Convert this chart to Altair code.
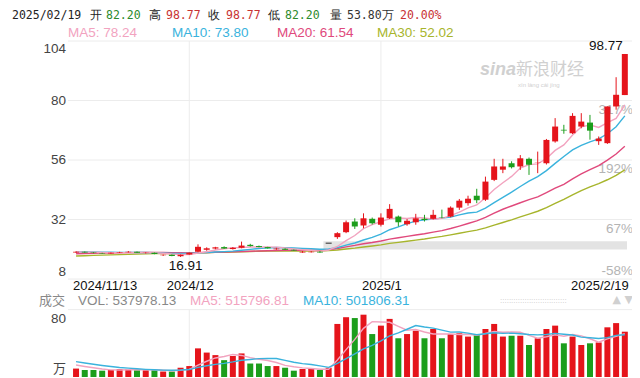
import altair as alt
import pandas as pd

# ---------------- data (estimated) ----------------
# 64 trading days, 2024/11/13 .. 2025/02/19 ; index 0..63
opens = [18.7, 19.0, 18.7, 18.5, 18.3, 18.6, 18.8, 19.0, 18.5, 18.6,
         17.6, 17.8, 17.2, 17.9, 19.0, 19.8, 20.3, 20.9, 20.1, 20.6,
         21.8, 21.3, 20.9, 20.0, 20.2, 19.8, 18.7, 18.8, 19.0, 22.44,
         24.9, 26.9, 31.2, 29.6, 32.3, 29.9, 32.5, 33.2, 30.1, 30.9,
         32.3, 32.3, 32.9, 33.2, 36.8, 38.6, 41.6, 40.0, 48.0, 52.1,
         54.7, 53.4, 56.5, 54.9, 54.7, 63.5, 68.2, 66.8, 69.5, 71.1,
         63.6, 62.8, 77.6, 82.20]
highs = [19.2, 19.1, 18.8, 18.6, 18.7, 19.0, 19.3, 19.1, 18.8, 18.7,
         17.9, 17.9, 17.9, 18.7, 22.0, 20.8, 21.0, 21.2, 20.9, 23.1,
         22.2, 21.5, 21.0, 20.6, 20.4, 19.9, 19.3, 19.3, 19.3, 22.44,
         26.9, 31.6, 32.5, 34.5, 32.8, 34.5, 38.2, 33.6, 32.2, 34.3,
         33.9, 35.9, 36.0, 37.3, 40.3, 41.6, 44.4, 49.3, 56.5, 56.5,
         55.5, 58.0, 57.0, 59.4, 64.5, 72.9, 70.2, 74.9, 74.9, 74.2,
         65.5, 77.6, 89.4, 98.77]
lows = [18.5, 18.6, 18.4, 18.2, 18.2, 18.5, 18.7, 18.5, 18.3, 18.0,
        17.3, 17.2, 16.91, 17.8, 18.8, 19.4, 20.0, 20.2, 19.9, 20.4,
        21.1, 20.8, 20.3, 19.8, 19.7, 19.4, 18.6, 18.7, 18.6, 22.44,
        24.2, 26.5, 28.2, 28.5, 30.0, 29.2, 32.2, 29.2, 29.5, 29.9,
        31.2, 32.0, 32.5, 32.9, 35.9, 37.6, 38.6, 39.5, 47.5, 50.7,
        52.6, 52.0, 50.0, 50.7, 54.2, 63.0, 66.6, 66.5, 68.8, 64.2,
        62.1, 62.5, 76.3, 82.20]
closes = [19.0, 18.7, 18.5, 18.3, 18.6, 18.8, 19.0, 18.6, 18.6, 18.1,
          17.8, 17.3, 17.8, 18.6, 21.0, 20.4, 20.8, 20.3, 20.6, 21.5,
          21.3, 20.9, 20.4, 20.3, 19.8, 19.5, 19.0, 19.0, 18.7, 22.44,
          26.5, 30.9, 29.2, 32.5, 30.5, 32.8, 36.3, 30.9, 31.5, 32.5,
          31.8, 33.9, 32.8, 36.8, 39.6, 40.4, 39.8, 47.3, 53.4, 53.4,
          53.1, 56.7, 54.1, 55.0, 64.1, 69.5, 67.9, 73.8, 71.5, 67.85,
          64.67, 77.6, 82.31, 98.77]
volumes = [10, 8.3, 8.3, 7.5, 8.3, 9.5, 9.5, 8, 8, 8,
           6.5, 6.5, 11, 13, 34, 29, 26, 20, 25, 28,
           16, 16, 13, 13, 11, 7.5, 9.5, 9.5, 8.3, 11,
           63, 71, 70, 74, 51, 61, 69, 46, 51, 55,
           46, 57, 46, 51, 52, 48, 50, 57, 63, 48,
           49, 49, 38, 46, 57, 61, 40, 48, 38, 40,
           41, 59, 64, 53.8]          # 万股
# closes / volumes before the visible window (estimated from the MA lines' start)
pre_closes = [15.0, 15.1, 15.3, 15.4, 15.5, 15.6, 15.6, 15.7, 15.8, 16.0,
              16.5, 16.8, 17.0, 17.3, 17.5, 17.6, 17.8, 18.0, 18.2, 18.3,
              18.6, 18.8, 18.9, 19.0, 19.1, 19.0, 18.9, 18.8, 18.9]
pre_volumes = [24, 23, 22, 21, 21, 17, 16, 15, 13]

# header texts as printed on the chart
head_date = "2025/02/19"
head_ohlc = ["82.20", "98.77", "98.77", "82.20"]
head_vol = "53.80万"
head_pct = "20.00%"
head_ma = ["MA5: 78.24", "MA10: 73.80", "MA20: 61.54", "MA30: 52.02"]
head_vol_line = ["VOL: 537978.13", "MA5: 515796.81", "MA10: 501806.31"]

price_ticks = [8, 32, 56, 80, 104]
pct_labels = ["-58%", "67%", "192%", "317%"]
x_label_text = ["2024/11/13", "2024/12", "2025/1", "2025/2/19"]
x_label_idx = [0, 13, 35, 63]
month_grid_idx = [13, 35]
band_price = [19.9, 23.2]
band_from_idx = 28.4

RED = "#e5141b"
GREEN = "#1c9e1c"
C_MA5 = "#f2a3bf"
C_MA10 = "#3ab3dd"
C_MA20 = "#e0497c"
C_MA30 = "#a7b52c"
GRID = "#ececec"
FONT = "Liberation Sans"
CJK = "Noto Sans CJK SC"

n = len(closes)
df = pd.DataFrame({"i": list(range(n)), "o": opens, "h": highs, "l": lows,
                   "c": closes, "v": volumes})
cs = pd.Series(pre_closes + closes)
for k in (5, 10, 20, 30):
    df[f"ma{k}"] = cs.rolling(k, min_periods=1).mean().iloc[len(pre_closes):].values
vs = pd.Series(pre_volumes + volumes)
for k in (5, 10):
    df[f"vma{k}"] = vs.rolling(k, min_periods=1).mean().iloc[len(pre_volumes):].values
df["pc"] = [RED if c > o else (GREEN if c < o else "#333333") for o, c in zip(opens, closes)]
df["vc"] = [RED if c >= o else GREEN for o, c in zip(opens, closes)]

W, H = 564, 336
xs = alt.Scale(domain=[-0.35, 63.25], nice=False, zero=False)
py = alt.Scale(domain=[-31.5, 104], nice=False, zero=False)
vy = alt.Scale(domain=[0, 399], nice=False, zero=False)
X = alt.X("i:Q", scale=xs, axis=None)


def PY(f):
    return alt.Y(f, scale=py, axis=None)


def VY(f):
    return alt.Y(f, scale=vy, axis=None)


def label(t, x, y, color, font=FONT, size=13.5, align="left", **kw):
    return alt.Chart(pd.DataFrame({"t": [t]})).mark_text(
        font=font, fontSize=size, color=color, align=align, baseline="middle", **kw).encode(
        text="t:N", x=alt.value(x), y=alt.value(y))


layers = []
# grid
pt = pd.DataFrame({"p": price_ticks})
layers.append(alt.Chart(pt).mark_rule(color=GRID, strokeWidth=1).encode(
    y=PY("p:Q"), x=alt.value(0), x2=alt.value(W)))
layers.append(alt.Chart(pd.DataFrame({"v": [80]})).mark_rule(color=GRID).encode(
    y=VY("v:Q"), x=alt.value(0), x2=alt.value(W)))
mg = pd.DataFrame({"i": month_grid_idx, "lo": [min(price_ticks)] * 2,
                   "hi": [max(price_ticks)] * 2, "v0": [0, 0], "v1": [80, 80]})
layers.append(alt.Chart(mg).mark_rule(color=GRID).encode(x=X, y=PY("lo:Q"), y2="hi:Q"))
layers.append(alt.Chart(mg).mark_rule(color=GRID).encode(x=X, y=VY("v0:Q"), y2="v1:Q"))
# gray band
bd = pd.DataFrame({"a": [band_from_idx], "b": [63.25], "p0": [band_price[0]], "p1": [band_price[1]]})
layers.append(alt.Chart(bd).mark_rect(color="#e3e3e3").encode(
    x=alt.X("a:Q", scale=xs, axis=None), x2="b:Q", y=PY("p0:Q"), y2="p1:Q"))
# watermark
layers.append(label("sina", 412, 29, "#d0d0d0", size=18, fontStyle="italic", fontWeight="bold"))
layers.append(label("新浪财经", 448, 29, "#d0d0d0", font=CJK, size=17))
layers.append(label("xīn    làng    cái    jīng", 450, 44, "#d0d0d0", size=6))
# right percent labels
pl = pd.DataFrame({"p": price_ticks[:4], "t": pct_labels})
layers.append(alt.Chart(pl.iloc[1:]).mark_text(
    font=FONT, fontSize=13.5, color="#b4b4b4", align="right", baseline="top", dy=2).encode(
    y=PY("p:Q"), x=alt.value(W + 1), text="t:N"))
layers.append(alt.Chart(pl.iloc[:1]).mark_text(
    font=FONT, fontSize=13.5, color="#b4b4b4", align="right", baseline="bottom", dy=-1).encode(
    y=PY("p:Q"), x=alt.value(W + 1), text="t:N"))
# MA lines (price)
for f, col in (("ma30", C_MA30), ("ma20", C_MA20), ("ma10", C_MA10), ("ma5", C_MA5)):
    layers.append(alt.Chart(df).mark_line(color=col, strokeWidth=1.4).encode(x=X, y=PY(f"{f}:Q")))
# candles
base = alt.Chart(df)
layers.append(base.mark_rule(strokeWidth=1).encode(
    x=X, y=PY("l:Q"), y2="h:Q", color=alt.Color("pc:N", scale=None)))
layers.append(base.mark_bar(size=6).encode(
    x=X, y=PY("o:Q"), y2="c:Q", color=alt.Color("pc:N", scale=None)))
layers.append(base.transform_filter("datum.o == datum.c").mark_tick(
    orient="horizontal", size=6, thickness=1.5).encode(
    x=X, y=PY("c:Q"), color=alt.Color("pc:N", scale=None)))
# high / low labels
hi_i = int(df["h"].idxmax())
lo_i = int(df["l"].idxmin())
layers.append(alt.Chart(df.iloc[[hi_i]]).mark_text(
    font=FONT, fontSize=13.5, color="#111", align="right", baseline="bottom", dx=-2, dy=-1).encode(
    x=X, y=PY("h:Q"), text=alt.Text("h:Q", format=".2f")))
layers.append(alt.Chart(df.iloc[[lo_i]]).mark_text(
    font=FONT, fontSize=13.5, color="#111", align="center", baseline="top", dx=5, dy=2).encode(
    x=X, y=PY("l:Q"), text=alt.Text("l:Q", format=".2f")))
# volume
layers.append(base.mark_bar(size=6).encode(
    x=X, y=VY("v:Q"), y2=alt.datum(0), color=alt.Color("vc:N", scale=None)))
layers.append(base.mark_line(color=C_MA5, strokeWidth=1.4).encode(x=X, y=VY("vma5:Q")))
layers.append(base.mark_line(color=C_MA10, strokeWidth=1.4).encode(x=X, y=VY("vma10:Q")))

# left price labels
tl = pd.DataFrame({"p": price_ticks})


def lab(d, baseline, dy):
    return alt.Chart(d).mark_text(font=FONT, fontSize=13.5, color="#444", align="right",
                                  baseline=baseline, dy=dy).encode(
        y=PY("p:Q"), x=alt.value(-2), text=alt.Text("p:Q"))


layers.append(lab(tl.iloc[-1:], "top", 1))
layers.append(lab(tl.iloc[1:-1], "middle", 0))
layers.append(lab(tl.iloc[:1], "bottom", 0))
# volume labels
layers.append(alt.Chart(pd.DataFrame({"v": [80]})).mark_text(
    font=FONT, fontSize=13.5, color="#444", align="right", baseline="top", dy=2).encode(
    y=VY("v:Q"), x=alt.value(-2), text="v:Q"))
layers.append(alt.Chart(pd.DataFrame({"v": [0], "t": ["万"]})).mark_text(
    font=CJK, fontSize=13, color="#444", align="right", baseline="bottom", dy=-1).encode(
    y=VY("v:Q"), x=alt.value(-2), text="t:N"))

# x labels
xl = pd.DataFrame({"i": x_label_idx, "t": x_label_text, "p": [8, 8, 8, 8]})
for sel, al, dx in (([0], "left", -3), ([1, 2], "center", 1), ([3], "right", 4)):
    layers.append(alt.Chart(xl.iloc[sel]).mark_text(
        font=FONT, fontSize=13, color="#111", align=al, baseline="middle", dx=dx, dy=7).encode(
        x=X, y=PY("p:Q"), text="t:N"))

# header line 1
MONO = "DejaVu Sans Mono"
h1 = [(head_date, -56, "#222"), ("开", 22, "#222"), (head_ohlc[0], 38, "#2c8a2c"),
      ("高", 81, "#222"), (head_ohlc[1], 98, "#c83232"), ("收", 140, "#222"),
      (head_ohlc[2], 158, "#c83232"), ("低", 200, "#222"), (head_ohlc[3], 217, "#2c8a2c"),
      ("量", 262, "#222"), (head_vol, 279, "#333"), (head_pct, 332, "#c83232")]
for t, x, col in h1:
    layers.append(label(t, x, -25, col, font=MONO, size=11.5))
# header line 2
for t, x, col in zip(head_ma, [0, 104, 209, 309], [C_MA5, C_MA10, C_MA20, C_MA30]):
    layers.append(label(t, x, -8, col))
# volume header
layers.append(label("成交", -29, 260, "#888", font=CJK, size=13))
for t, x, col in zip(head_vol_line, [10, 122, 235], ["#888", C_MA5, C_MA10]):
    layers.append(label(t, x, 260, col, size=13.5))
# scroll decoration
layers.append(label("::::::::::::::::::::::::::::::", 432, 260, "#c8c8c8", size=8))
layers.append(label("▲    ▼", W + 1, 259, "#d0d0d0", font="DejaVu Sans", size=11, align="right"))

chart = alt.layer(*layers).resolve_scale(y="independent").properties(
    width=W, height=H,
    autosize=alt.AutoSizeParams(type="none"),
    padding={"left": 60, "top": 33, "right": 0, "bottom": 1},
    background="white",
).configure_view(stroke=None)

chart.save("out.html", embed_options={"renderer": "svg", "actions": False})
